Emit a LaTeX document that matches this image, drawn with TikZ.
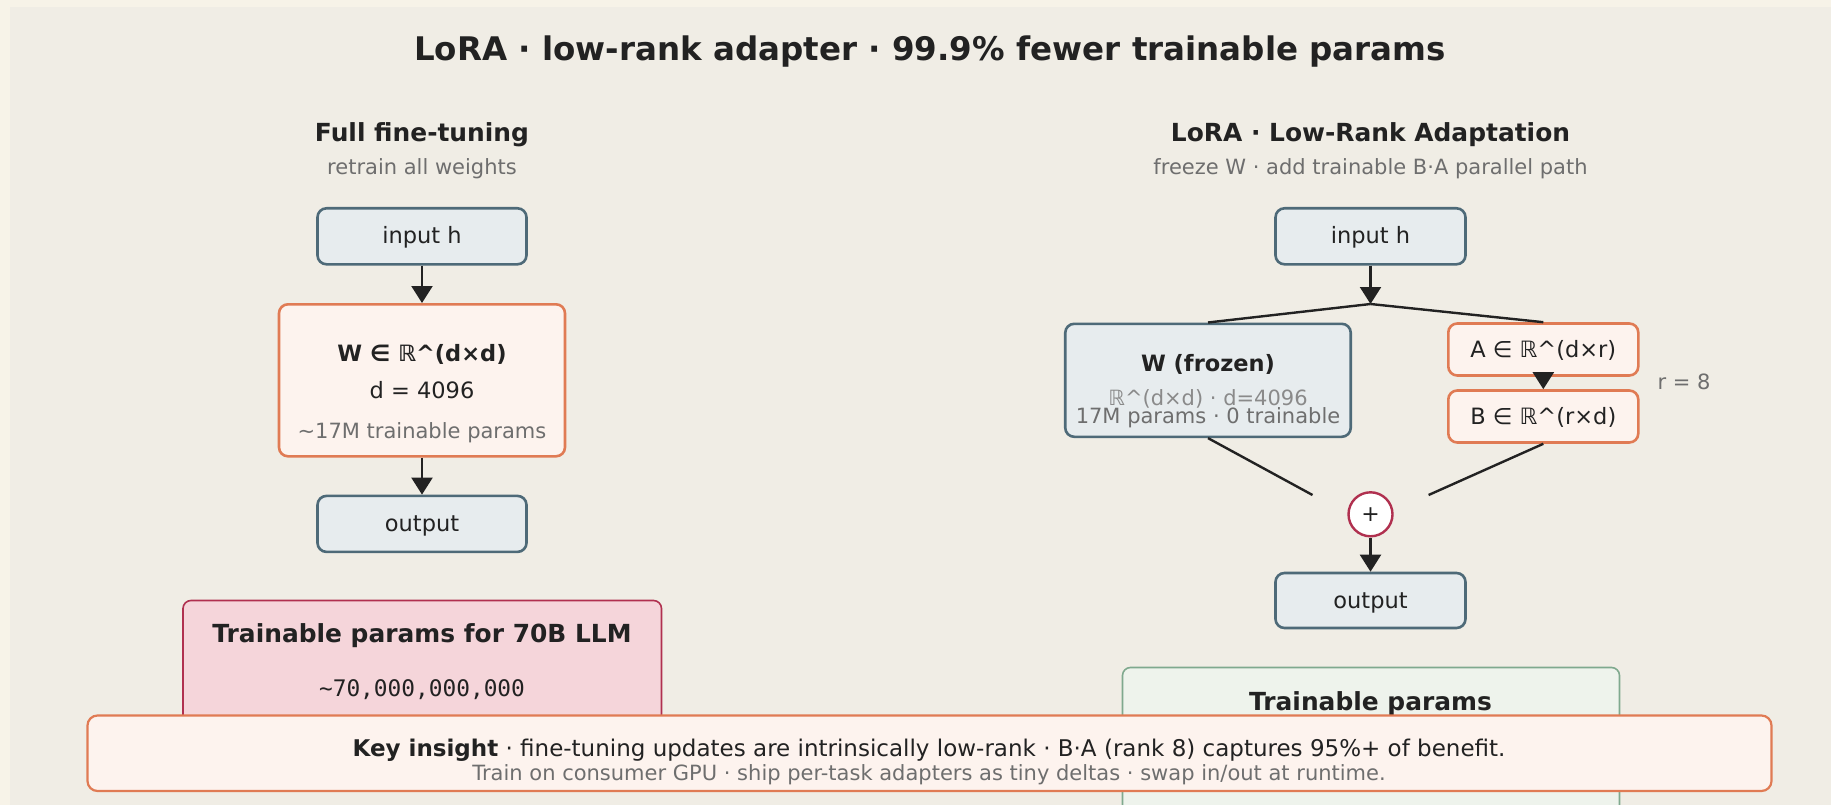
\documentclass[tikz,border=0pt]{standalone}
\usepackage{fontspec}
\setmainfont{DejaVu Sans}
\setmonofont{DejaVu Sans Mono}
\usetikzlibrary{arrows.meta}
\definecolor{outerbg}{HTML}{F7F3E8}
\definecolor{innerbg}{HTML}{F0EDE5}
\definecolor{ink}{HTML}{222222}
\definecolor{muted}{HTML}{6E6E6E}
\definecolor{mutedlight}{HTML}{8A8A8A}
\definecolor{slate}{HTML}{4E6A78}
\definecolor{slatefill}{HTML}{E7ECEE}
\definecolor{orng}{HTML}{E07B54}
\definecolor{orngfill}{HTML}{FDF3EE}
\definecolor{crim}{HTML}{B0304F}
\definecolor{pinkfill}{HTML}{F5D5DA}
\definecolor{grn}{HTML}{7FA98E}
\definecolor{grnfill}{HTML}{EEF3EC}
\newcommand{\fsz}[1]{\fontsize{#1pt}{#1pt}\selectfont}
\tikzset{
  box/.style={rounded corners=9pt, line width=2.6pt, inner sep=0pt, text=ink,
              text height=16pt, text depth=1pt, font=\fsz{22.5}},
  slatebox/.style={box, draw=slate, fill=slatefill},
  orngbox/.style={box, draw=orng, fill=orngfill},
  txt/.style={anchor=base, inner sep=0pt, text=ink},
  flow/.style={line width=2.2pt, draw=ink, -{Triangle[length=17pt,width=21pt]}},
  link/.style={line width=2.4pt, draw=ink},
  heading/.style={txt, font=\bfseries\fsz{24.9}},
  subhead/.style={txt, text=muted, font=\fsz{21}},
}
\begin{document}
\begin{tikzpicture}[x=1pt,y=-1pt]
\clip (0,0) rectangle (1831,805);
\fill[outerbg] (0,0) rectangle (1831,805);
\fill[innerbg] (10,7) rectangle (1831,805);

% title
\node[txt, font=\bfseries\fsz{32.5}] (title) at (930,61) {LoRA · low-rank adapter · 99.9\% fewer trainable params};

% ---------- left: full fine-tuning ----------
\node[heading] (hL) at (422,141.7) {Full fine-tuning};
\node[subhead] (sL) at (422,175) {retrain all weights};

\node[slatebox, minimum width=209pt, minimum height=56pt] (inL) at (422,236.3) {input h};
\node[orngbox, minimum width=286pt, minimum height=152pt] (WL) at (422,380.3) {};
\node[txt, font=\bfseries\fsz{22.5}] (WLa) at (422,361) {W ∈ ℝ\^{}(d×d)};
\node[txt, font=\fsz{22.5}] (WLb) at (422,398.3) {d = 4096};
\node[txt, text=muted, font=\fsz{21}] (WLc) at (422,438.3) {\textasciitilde17M trainable params};
\node[slatebox, minimum width=209pt, minimum height=56pt] (outL) at (422,523.9) {output};

\draw[flow] (inL.south) -- (WL.north);
\draw[flow] (WL.south) -- (outL.north);

% pink summary box
\draw[crim, fill=pinkfill, line width=1.6pt, rounded corners=8pt] (183,600.5) rectangle (661.5,760);
\node[txt, font=\bfseries\fsz{24.9}] (pinkT) at (422,642.7) {Trainable params for 70B LLM};
\node[txt, font=\ttfamily\fsz{22.8}] (pinkN) at (422,696) {\textasciitilde70,000,000,000};

% ---------- right: LoRA ----------
\node[heading] (hR) at (1370.5,141.7) {LoRA · Low-Rank Adaptation};
\node[subhead] (sR) at (1370.5,175) {freeze W · add trainable B·A parallel path};

\node[slatebox, minimum width=190pt, minimum height=56pt] (inR) at (1370.5,236.3) {input h};
\coordinate (junc) at (1370.5,304);
\node[slatebox, minimum width=285.5pt, minimum height=113pt] (Wf) at (1208,380.3) {};
\node[txt, font=\bfseries\fsz{22.5}] (Wfa) at (1208,371) {W (frozen)};
\node[txt, text=mutedlight, font=\fsz{21}] (Wfb) at (1208,405) {ℝ\^{}(d×d) · d=4096};
\node[txt, text=muted, font=\fsz{21}] (Wfc) at (1208,423.5) {17M params · 0 trainable};

\node[orngbox, minimum width=190pt, minimum height=52pt] (A) at (1543.3,349.5) {A ∈ ℝ\^{}(d×r)};
\node[orngbox, minimum width=190pt, minimum height=52pt] (B) at (1543.3,416.5) {B ∈ ℝ\^{}(r×d)};
\node[txt, text=muted, font=\fsz{21}] (rlab) at (1684,389.3) {r = 8};

\node[circle, draw=crim, fill=white, line width=2.4pt, minimum size=44pt, inner sep=0pt,
      text=ink, font=\fsz{22}] (plus) at (1370.5,514.3) {+};
\coordinate (wend) at (1312.5,495);
\coordinate (bend) at (1428.6,495);
\node[slatebox, minimum width=190pt, minimum height=55pt] (outR) at (1370.5,600.5) {output};

\draw[flow] (inR.south) -- (junc);
\draw[link] (junc) -- (Wf.north);
\draw[link] (junc) -- (A.north);
\draw[flow] (A.south) -- (B.north);
\draw[link] (Wf.south) -- (wend);
\draw[link] (B.south) -- (bend);
\draw[flow] (plus.south) -- (outR.north);

% green summary box
\draw[grn, fill=grnfill, line width=1.6pt, rounded corners=8pt] (1122.5,667.5) rectangle (1619.5,830);
\node[txt, font=\bfseries\fsz{24.9}] (grnT) at (1370.5,710) {Trainable params};

% key insight banner
\draw[orng, fill=orngfill, line width=2.2pt, rounded corners=10pt] (87.5,715.5) rectangle (1771.5,791);
\node[txt, font=\fsz{23}] (key1) at (929,756.7) {\textbf{Key insight} · fine-tuning updates are intrinsically low-rank · B·A (rank 8) captures 95\%+ of benefit.};
\node[txt, text=muted, font=\fsz{21}] (key2) at (929,780) {Train on consumer GPU · ship per-task adapters as tiny deltas · swap in/out at runtime.};
\end{tikzpicture}
\end{document}
